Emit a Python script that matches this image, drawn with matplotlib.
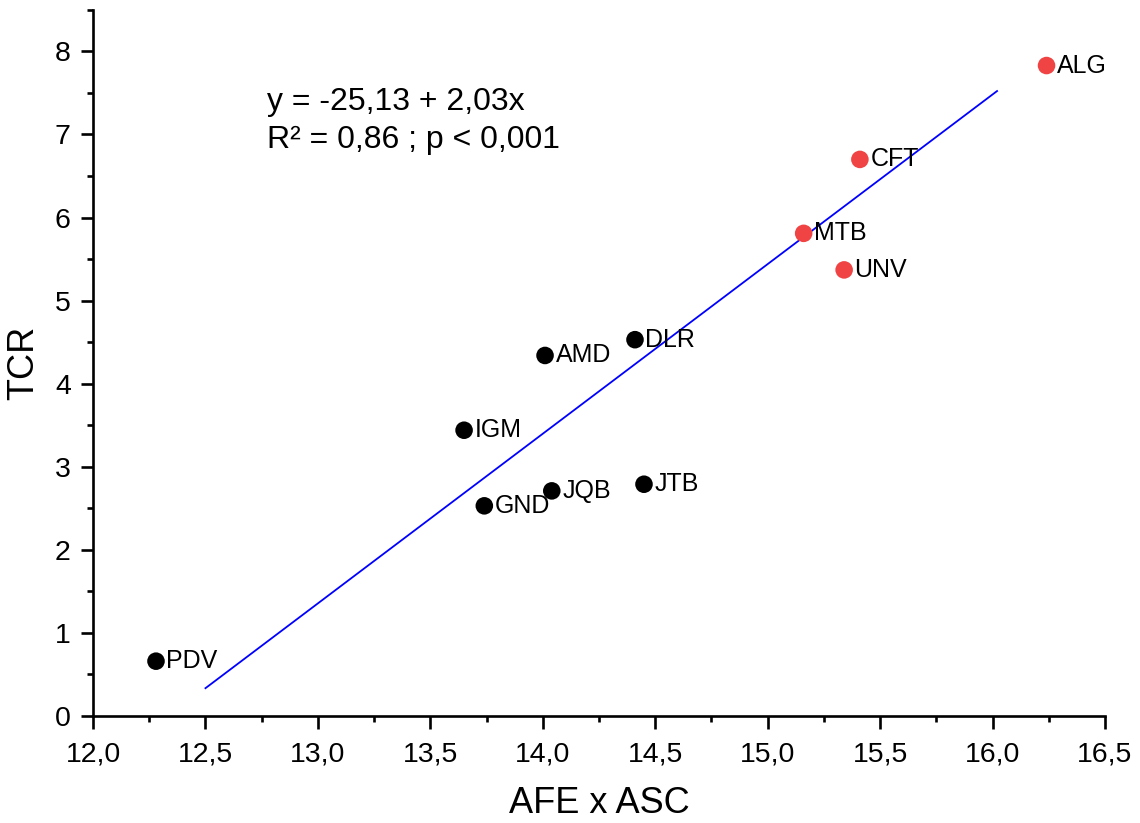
import numpy as np
import matplotlib
matplotlib.use("Agg")
import matplotlib.pyplot as plt
from matplotlib.ticker import MultipleLocator, FuncFormatter

plt.rcParams['font.family'] = ['Liberation Sans', 'DejaVu Sans']

labels = ["PDV", "GND", "IGM", "AMD", "JQB", "DLR", "JTB", "MTB", "UNV", "CFT", "ALG"]
afe_asc = [12.28, 13.74, 13.65, 14.01, 14.04, 14.41, 14.45, 15.16, 15.34, 15.41, 16.24]
tcr = [0.66, 2.53, 3.44, 4.34, 2.71, 4.53, 2.79, 5.81, 5.37, 6.70, 7.83]
highlight = [False, False, False, False, False, False, False, True, True, True, True]
# regression line as drawn in the reference
fit_x = [12.50, 16.02]
fit_intercept = -25.19
fit_slope = 2.042

fig = plt.figure(figsize=(11.4, 8.23), dpi=100)
ax = fig.add_axes([0.0816, 0.130, 0.8877, 0.858])

xf = np.array(fit_x)
ax.plot(xf, fit_intercept + fit_slope * xf, color="#0000ff", lw=1.3, zorder=2)

colors = ["#f04444" if h else "black" for h in highlight]
ax.scatter(afe_asc, tcr, s=160, c=colors, edgecolors="none", zorder=3, clip_on=False)
for xi, yi, lab in zip(afe_asc, tcr, labels):
    ax.annotate(lab, (xi, yi), xytext=(7.5, 0), textcoords="offset points",
                va="center", ha="left", fontsize=18, annotation_clip=False,
                clip_on=True)

ax.text(0.172, 0.858, "y = -25,13 + 2,03x", transform=ax.transAxes,
        fontsize=23, va="baseline", ha="left")
ax.text(0.172, 0.804, "R² = 0,86 ; p < 0,001", transform=ax.transAxes,
        fontsize=23, va="baseline", ha="left")

ax.set_xlim(12.0, 16.5)
ax.set_ylim(0, 8.5)
ax.xaxis.set_major_locator(MultipleLocator(0.5))
ax.xaxis.set_minor_locator(MultipleLocator(0.25))
ax.yaxis.set_major_locator(MultipleLocator(1))
ax.yaxis.set_minor_locator(MultipleLocator(0.5))
ax.xaxis.set_major_formatter(FuncFormatter(lambda v, p: f"{v:.1f}".replace(".", ",")))
ax.yaxis.set_major_formatter(FuncFormatter(lambda v, p: f"{v:.0f}"))

for s in ["top", "right"]:
    ax.spines[s].set_visible(False)
for s in ["left", "bottom"]:
    ax.spines[s].set_linewidth(1.9)
ax.tick_params(which="major", direction="out", length=9, width=1.9, labelsize=20.5, pad=7)
ax.tick_params(axis="x", which="major", pad=9)
ax.tick_params(which="minor", direction="out", length=4.5, width=1.9)

ax.set_xlabel("AFE x ASC", fontsize=26, labelpad=14)
ax.set_ylabel("TCR", fontsize=26, labelpad=10)

fig.savefig("out.png", dpi=100)
